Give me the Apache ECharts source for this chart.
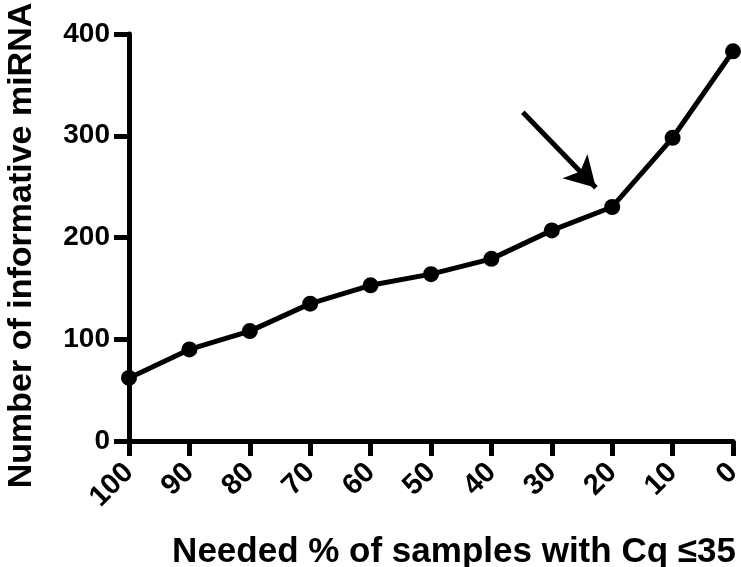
<!DOCTYPE html>
<html>
<head>
<meta charset="utf-8">
<script src="https://cdn.jsdelivr.net/npm/echarts@6/dist/echarts.min.js"></script>
<style>html,body{margin:0;padding:0;background:#fff}#c{width:741px;height:567px}</style>
</head>
<body>
<div id="c"></div>
<script>
var xValues = [100, 90, 80, 70, 60, 50, 40, 30, 20, 10, 0];
var yValues = [62, 90, 108, 135, 153, 164, 179, 207, 230, 298, 383];
var xTicks = [100, 90, 80, 70, 60, 50, 40, 30, 20, 10, 0];
var arrowFrom = [34.8, 323];
var arrowTo = [22.7, 249];

var chart = echarts.init(document.getElementById('c'));
var font = '"Liberation Sans", Arial, sans-serif';
chart.setOption({
  animation: false,
  grid: {left: 129, right: 8, top: 34, bottom: 126, containLabel: false, outerBoundsMode: 'none'},
  xAxis: {
    type: 'value', inverse: true, min: 0, max: 100, interval: 10,
    name: 'Needed % of samples with Cq \u226435',
    nameLocation: 'middle', nameGap: 94,
    nameTextStyle: {fontFamily: font, fontWeight: 'bold', fontSize: 35, color: '#000', padding: [0, 0, 0, 46]},
    axisLine: {show: true, onZero: false, lineStyle: {color: '#000', width: 5}},
    axisTick: {show: true, length: 15, lineStyle: {color: '#000', width: 5}},
    splitLine: {show: false},
    axisLabel: {rotate: 45, margin: 27, fontFamily: font, fontWeight: 'bold', fontSize: 29, color: '#000',
      formatter: function (v) { return xTicks.indexOf(v) >= 0 ? String(v) : ''; }}
  },
  yAxis: {
    type: 'value', min: 0, max: 400, interval: 100, position: 'left',
    name: 'Number of informative miRNA',
    nameLocation: 'middle', nameGap: 90, nameRotate: 90,
    nameTextStyle: {fontFamily: font, fontWeight: 'bold', fontSize: 34, color: '#000', padding: [0, 16, 0, 0]},
    axisLine: {show: true, onZero: false, lineStyle: {color: '#000', width: 5}},
    axisTick: {show: true, length: 15, lineStyle: {color: '#000', width: 5}},
    splitLine: {show: false},
    axisLabel: {margin: 19, fontFamily: font, fontWeight: 'bold', fontSize: 28, color: '#000'}
  },
  series: [{
    type: 'line',
    data: xValues.map(function (x, i) { return [x, yValues[i]]; }),
    symbol: 'circle', symbolSize: 16,
    lineStyle: {color: '#000', width: 5},
    itemStyle: {color: '#000'},
    clip: false,
    emphasis: {disabled: true},
    markLine: {
      silent: true,
      symbol: ['none', 'arrow'],
      symbolSize: [26, 30],
      label: {show: false},
      lineStyle: {color: '#000', width: 5, type: 'solid'},
      data: [[{coord: arrowFrom}, {coord: arrowTo}]]
    }
  }]
});
</script>
</body>
</html>
